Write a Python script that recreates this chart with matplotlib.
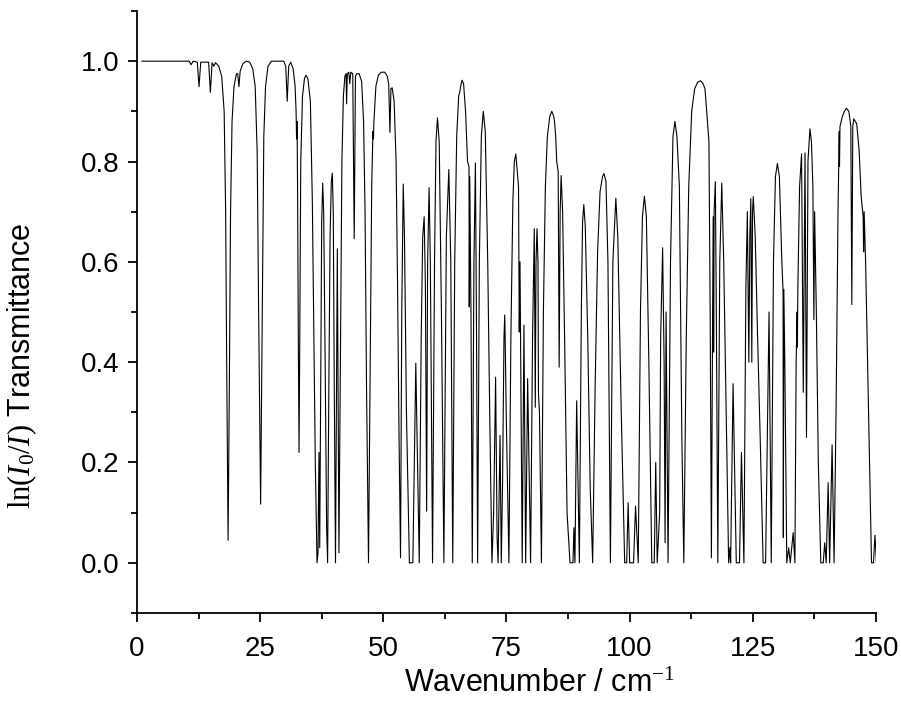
import matplotlib
matplotlib.use("Agg")
import matplotlib.pyplot as plt
from matplotlib.ticker import MultipleLocator

plt.rcParams["font.family"] = ["Liberation Sans", "DejaVu Sans"]
plt.rcParams["mathtext.fontset"] = "custom"
plt.rcParams["mathtext.rm"] = "Liberation Serif"
plt.rcParams["mathtext.it"] = "Liberation Serif:italic"

# Spectrum vertices, 0-47 cm^-1
wn_low = [1.0, 10.6, 11.0, 11.4, 12.25, 12.6, 12.95, 14.55, 14.9, 15.25, 15.6, 15.95,
          16.6, 17.2, 17.7, 18.0, 18.25, 18.5, 18.75, 19.0, 19.3, 19.7, 20.2, 20.45,
          20.7, 20.95, 21.5, 22.2, 22.9, 23.5, 24.0, 24.4, 24.7, 25.1, 25.45, 25.75,
          26.1, 26.6, 27.3, 29.8, 30.2, 30.5, 30.8, 31.2, 31.7, 32.1, 32.3, 32.4,
          32.5, 32.6, 32.75, 32.9, 33.05, 33.25, 33.6, 34.0, 34.3, 34.7, 35.2, 35.6,
          35.9, 36.2, 36.55, 36.75, 36.95, 37.1, 37.3, 37.5, 37.7, 37.9, 38.2, 38.5,
          38.7, 38.95, 39.2, 39.45, 39.65, 39.85, 40.05, 40.3, 40.67, 41.0, 41.3, 41.6,
          41.9, 42.2, 42.45, 42.55, 42.7, 43.0, 43.2, 43.4, 43.8, 44.1, 44.35, 44.6,
          45.1, 45.6, 46.0, 46.3, 46.6, 47.0]
tr_low = [1.0, 1.0, 0.993, 1.0, 0.998, 0.949, 0.998, 0.998, 0.938, 0.997, 0.99, 0.997,
          0.99, 0.97, 0.9, 0.7, 0.35, 0.045, 0.35, 0.7, 0.88, 0.95, 0.975, 0.975,
          0.949, 0.98, 0.995, 1.0, 0.998, 0.985, 0.95, 0.82, 0.5, 0.117, 0.5, 0.85,
          0.95, 0.99, 1.0, 1.0, 0.99, 0.92, 0.99, 0.998, 0.985, 0.95, 0.90, 0.845,
          0.88, 0.75, 0.45, 0.22, 0.45, 0.8, 0.93, 0.965, 0.972, 0.965, 0.92, 0.72,
          0.45, 0.2, 0.0, 0.02, 0.22, 0.03, 0.35, 0.68, 0.757, 0.7, 0.4, 0.07,
          0.0, 0.35, 0.65, 0.76, 0.777, 0.7, 0.35, 0.0, 0.626, 0.02, 0.4, 0.8,
          0.93, 0.97, 0.975, 0.915, 0.975, 0.978, 0.955, 0.978, 0.975, 0.646, 0.97, 0.975,
          0.975, 0.96, 0.88, 0.7, 0.35, 0.0]

# Spectrum vertices, 47-99 cm^-1
wn_mid = [47.35, 47.65, 47.9, 48.0, 48.1, 48.5, 49.0, 49.6, 50.3, 50.8, 51.1, 51.35,
          51.55, 51.8, 52.2, 52.6, 52.9, 53.2, 53.5, 53.75, 54.05, 54.3, 54.7, 55.3,
          56.0, 56.6, 57.3, 57.7, 58.0, 58.3, 58.55, 58.8, 59.0, 59.3, 59.55, 60.0,
          60.4, 60.7, 61.0, 61.35, 61.8, 62.3, 62.8, 63.3, 63.7, 64.1, 64.5, 64.9,
          65.3, 65.55, 65.8, 66.0, 66.3, 66.7, 67.1, 67.4, 67.45, 67.55, 67.8, 68.06,
          68.4, 68.7, 68.9, 69.15, 69.5, 69.9, 70.3, 70.7, 71.2, 71.6, 72.05, 72.4,
          72.8, 73.1, 73.3, 73.7, 73.95, 74.2, 74.5, 74.65, 74.75, 74.95, 75.5, 75.9,
          76.3, 76.6, 76.9, 77.2, 77.45, 77.6, 77.75, 78.2, 78.55, 78.9, 79.3, 79.9,
          80.3, 80.65, 80.85, 81.0, 81.2, 81.4, 81.5, 81.7, 82.1, 82.5, 82.9, 83.3,
          83.8, 84.2, 84.6, 84.75, 85.0, 85.2, 85.5, 85.7, 85.9, 86.1, 86.4, 86.8,
          87.3, 87.9, 88.5, 88.7, 88.9, 89.25, 89.8, 90.2, 90.45, 90.7, 91.0, 91.5,
          92.0, 92.5, 93.0, 93.5, 94.0, 94.5, 94.8, 95.2, 95.6, 96.1, 96.6, 97.2,
          97.6, 98.3, 99.0]
tr_mid = [0.4, 0.75, 0.86, 0.845, 0.88, 0.95, 0.972, 0.978, 0.978, 0.97, 0.955, 0.858,
          0.945, 0.947, 0.92, 0.8, 0.55, 0.25, 0.01, 0.5, 0.755, 0.65, 0.3, 0.0,
          0.0, 0.398, 0.0, 0.45, 0.65, 0.69, 0.55, 0.103, 0.6, 0.748, 0.6, 0.0,
          0.6, 0.84, 0.887, 0.84, 0.5, 0.0, 0.65, 0.784, 0.6, 0.0, 0.6, 0.85,
          0.93, 0.94, 0.955, 0.962, 0.955, 0.9, 0.8, 0.79, 0.51, 0.77, 0.5, 0.0,
          0.6, 0.797, 0.5, 0.0, 0.6, 0.85, 0.9, 0.86, 0.6, 0.3, 0.0, 0.1,
          0.37, 0.05, 0.0, 0.254, 0.0, 0.15, 0.45, 0.494, 0.44, 0.3, 0.0, 0.45,
          0.72, 0.8, 0.815, 0.78, 0.75, 0.46, 0.6, 0.0, 0.474, 0.0, 0.367, 0.0,
          0.45, 0.666, 0.31, 0.6, 0.666, 0.6, 0.336, 0.3, 0.0, 0.5, 0.75, 0.85,
          0.89, 0.9, 0.89, 0.88, 0.85, 0.8, 0.78, 0.39, 0.7, 0.772, 0.7, 0.45,
          0.1, 0.0, 0.0, 0.07, 0.0, 0.323, 0.0, 0.5, 0.68, 0.714, 0.67, 0.45,
          0.15, 0.0, 0.35, 0.62, 0.74, 0.77, 0.776, 0.76, 0.6, 0.0, 0.6, 0.727,
          0.65, 0.3, 0.0]

# Spectrum vertices, 99-150 cm^-1
wn_high = [99.4, 99.7, 100.0, 100.8, 101.2, 101.75, 102.2, 102.6, 103.0, 103.4, 103.9, 104.5,
           105.0, 105.3, 105.6, 106.1, 106.3, 106.7, 107.0, 107.2, 107.4, 107.8, 108.3, 108.8,
           109.2, 109.6, 110.0, 110.1, 110.3, 110.6, 111.0, 111.5, 112.0, 112.6, 113.2, 113.8,
           114.4, 114.9, 115.3, 115.8, 116.1, 116.35, 116.6, 116.85, 117.0, 117.05, 117.15, 117.4,
           117.6, 117.9, 118.3, 118.7, 119.1, 119.6, 120.1, 120.35, 120.5, 121.0, 121.65, 122.3,
           122.7, 123.2, 123.6, 123.9, 124.2, 124.4, 124.6, 124.8, 124.95, 125.1, 125.5, 125.9,
           126.5, 127.1, 127.6, 128.3, 128.75, 129.2, 129.6, 130.0, 130.4, 130.9, 131.15, 131.2,
           131.3, 131.5, 131.9, 132.3, 132.6, 133.2, 133.55, 133.8, 134.0, 134.05, 134.15, 134.5,
           134.9, 135.25, 135.6, 135.9, 136.2, 136.6, 136.9, 137.2, 137.4, 137.55, 137.9, 138.3,
           138.8, 139.3, 139.6, 139.9, 140.3, 140.6, 141.1, 141.5, 141.9, 142.3, 142.55, 142.6,
           142.7, 143.2, 143.6, 144.0, 144.5, 144.9, 145.1, 145.3, 145.5, 145.8, 146.1, 146.6,
           147.0, 147.4, 147.5, 147.6, 147.9, 148.1, 148.5, 149.1, 149.5, 149.8, 150.1]
tr_high = [0.0, 0.12, 0.0, 0.0, 0.113, 0.0, 0.5, 0.69, 0.731, 0.69, 0.4, 0.0,
           0.0, 0.2, 0.0, 0.1, 0.45, 0.628, 0.4, 0.04, 0.5, 0.0, 0.6, 0.85,
           0.88, 0.85, 0.77, 0.75, 0.55, 0.25, 0.0, 0.45, 0.75, 0.9, 0.945, 0.958,
           0.961, 0.955, 0.945, 0.88, 0.84, 0.5, 0.01, 0.5, 0.69, 0.42, 0.7, 0.76,
           0.5, 0.0, 0.6, 0.757, 0.6, 0.3, 0.0, 0.03, 0.0, 0.357, 0.0, 0.0,
           0.22, 0.0, 0.55, 0.70, 0.4, 0.65, 0.726, 0.4, 0.7, 0.73, 0.65, 0.48,
           0.25, 0.0, 0.0, 0.5, 0.0, 0.6, 0.77, 0.796, 0.77, 0.6, 0.54, 0.05,
           0.545, 0.4, 0.0, 0.03, 0.0, 0.06, 0.0, 0.4, 0.5, 0.43, 0.55, 0.75,
           0.815, 0.34, 0.817, 0.25, 0.8, 0.865, 0.84, 0.75, 0.485, 0.7, 0.5, 0.2,
           0.0, 0.0, 0.04, 0.0, 0.16, 0.0, 0.235, 0.0, 0.3, 0.7, 0.86, 0.79,
           0.87, 0.89, 0.9, 0.906, 0.9, 0.87, 0.515, 0.87, 0.885, 0.88, 0.875, 0.82,
           0.73, 0.69, 0.62, 0.7, 0.6, 0.5, 0.3, 0.0, 0.0, 0.055, 0.0]

wavenumber = wn_low + wn_mid + wn_high
transmittance = tr_low + tr_mid + tr_high

fig = plt.figure(figsize=(9.01, 7.15), dpi=100)
ax = fig.add_axes([0.152, 0.1427, 0.8202, 0.8419])
ax.plot(wavenumber, transmittance, color="black", lw=0.8)

ax.set_xlim(0, 150)
ax.set_ylim(-0.1, 1.1)
ax.xaxis.set_major_locator(MultipleLocator(25))
ax.xaxis.set_minor_locator(MultipleLocator(12.5))
ax.set_yticks([0.0, 0.2, 0.4, 0.6, 0.8, 1.0])
ax.set_yticklabels(["0.0", "0.2", "0.4", "0.6", "0.8", "1.0"])
ax.yaxis.set_minor_locator(MultipleLocator(0.1))

for side in ("top", "right"):
    ax.spines[side].set_visible(False)
for side in ("left", "bottom"):
    ax.spines[side].set_linewidth(1.3)

ax.tick_params(which="major", direction="out", length=6.5, width=1.3, labelsize=20)
ax.tick_params(which="minor", direction="out", length=4, width=1.3)
ax.tick_params(axis="x", which="major", pad=10)
ax.tick_params(axis="y", which="major", pad=6)

ax.set_xlabel(r"Wavenumber / cm$^{-1}$", fontsize=22)
ax.xaxis.label.set_verticalalignment("baseline")
ax.xaxis.set_label_coords(0.545, -0.132)

ax.set_ylabel(r"$\mathrm{ln}(I_0/I)$ Transmittance", fontsize=22)
ax.yaxis.label.set_verticalalignment("center")
ax.yaxis.set_label_coords(-0.155, 0.41)

fig.savefig("out.png", dpi=100)
